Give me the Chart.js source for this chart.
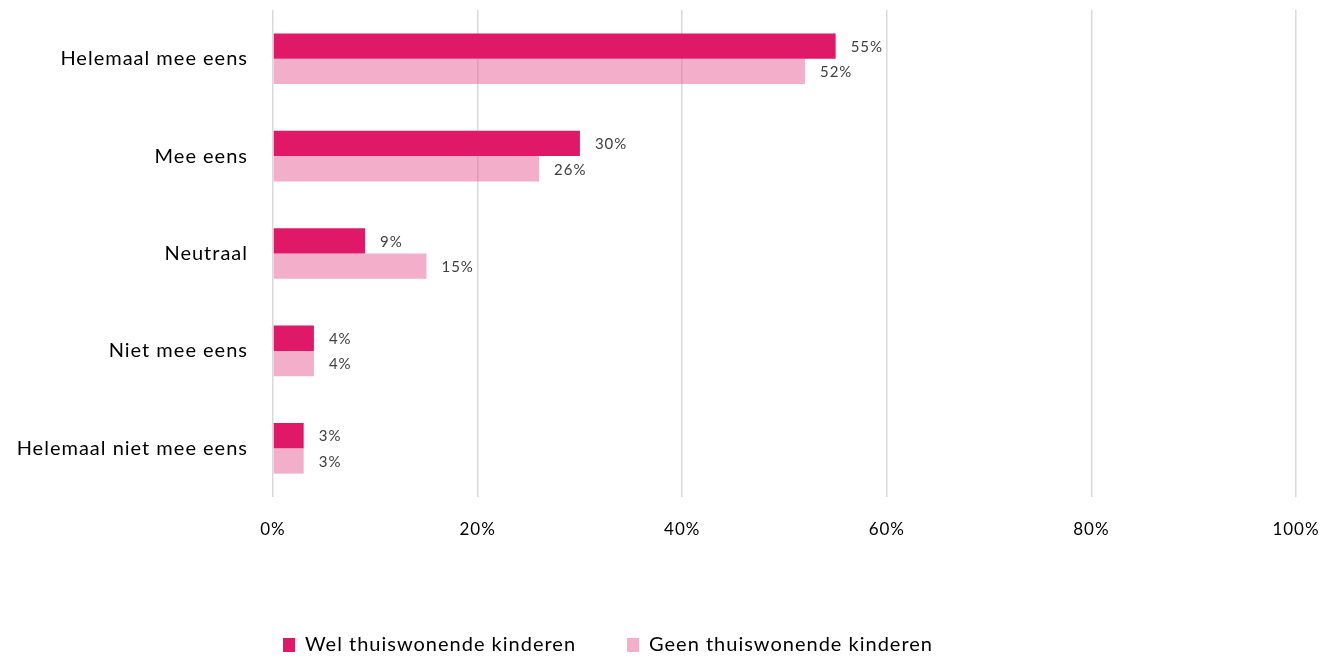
<!DOCTYPE html>
<html lang="nl">
<head>
<meta charset="utf-8">
<title>Stellingen: thuiswonende kinderen</title>
<script src="https://cdn.jsdelivr.net/npm/chart.js@4/dist/chart.umd.min.js"></script>
<style>
  html, body { margin: 0; padding: 0; background: #fff; }
  #wrap { width: 1329px; height: 660px; position: relative; }
</style>
</head>
<body>
<div id="wrap"><canvas id="antwoordChart"></canvas></div>
<script>
// antwoordcategorieën en percentages per groep
const categorieen = ['Helemaal mee eens', 'Mee eens', 'Neutraal', 'Niet mee eens', 'Helemaal niet mee eens'];
const welThuis = [55, 30, 9, 4, 3];
const geenThuis = [52, 26, 15, 4, 3];
const reeksNamen = ['Wel thuiswonende kinderen', 'Geen thuiswonende kinderen'];
const asTicks = [0, 20, 40, 60, 80, 100];

const FONT = 'Lato, "Open Sans", sans-serif';
const SPACING = '1px';
const PLOT_BOTTOM = 497;

// wat extra letterafstand voor alle tekst
const letterSpacing = {
  id: 'letterSpacing',
  beforeUpdate(chart) { chart.ctx.letterSpacing = SPACING; },
  beforeDraw(chart) { chart.ctx.letterSpacing = SPACING; }
};

// percentages rechts naast de balken
const waardeLabels = {
  id: 'waardeLabels',
  afterDatasetsDraw(chart) {
    const ctx = chart.ctx;
    ctx.save();
    ctx.font = '15px ' + FONT;
    ctx.fillStyle = '#404040';
    ctx.textAlign = 'left';
    ctx.textBaseline = 'middle';
    chart.data.datasets.forEach((ds, i) => {
      chart.getDatasetMeta(i).data.forEach((bar, j) => {
        ctx.fillText(ds.data[j] + '%', bar.x + 15, bar.y + 1);
      });
    });
    ctx.restore();
  }
};

// legenda iets naar links en omlaag
const legendaVerschuiving = {
  id: 'legendaVerschuiving',
  afterLayout(chart) {
    const lg = chart.legend;
    lg.left -= 40;
    lg.right -= 40;
    lg.top += 5;
    lg.bottom += 5;
  }
};

const ctx = document.getElementById('antwoordChart').getContext('2d');

new Chart(ctx, {
  type: 'bar',
  data: {
    labels: categorieen,
    datasets: [{
      label: reeksNamen[0],
      data: welThuis,
      backgroundColor: '#E01868',
      categoryPercentage: 0.52,
      barPercentage: 1
    }, {
      label: reeksNamen[1],
      data: geenThuis,
      backgroundColor: 'rgba(232, 95, 150, 0.5)',
      categoryPercentage: 0.52,
      barPercentage: 1
    }]
  },
  options: {
    indexAxis: 'y',
    responsive: true,
    maintainAspectRatio: false,
    animation: false,
    layout: { padding: { top: 10, right: 33, bottom: 0, left: 0 } },
    scales: {
      x: {
        min: 0,
        max: 100,
        afterBuildTicks(scale) { scale.ticks = asTicks.map(v => ({ value: v })); },
        afterFit(scale) {
          scale.paddingLeft = 0;
          scale.paddingRight = 0;
          scale.height = 660 - PLOT_BOTTOM - scale.chart.legend.height;
        },
        grid: { color: '#D9D9D9', lineWidth: 1.5, drawTicks: false },
        border: { display: false },
        ticks: {
          padding: 22,
          color: '#000',
          font: { family: FONT, size: 17 },
          callback: v => v + '%'
        }
      },
      y: {
        afterFit(scale) {
          scale.width = 273;
          scale.paddingTop = 0;
          scale.paddingBottom = 0;
        },
        grid: { display: false },
        border: { display: false },
        ticks: {
          padding: 17,
          color: '#000',
          font: { family: FONT, size: 20 }
        }
      }
    },
    plugins: {
      legend: {
        position: 'bottom',
        labels: {
          boxWidth: 12,
          boxHeight: 14,
          padding: 51,
          color: '#000',
          font: { family: FONT, size: 20 }
        }
      },
      tooltip: { enabled: false }
    }
  },
  plugins: [letterSpacing, waardeLabels, legendaVerschuiving]
});
</script>
</body>
</html>
